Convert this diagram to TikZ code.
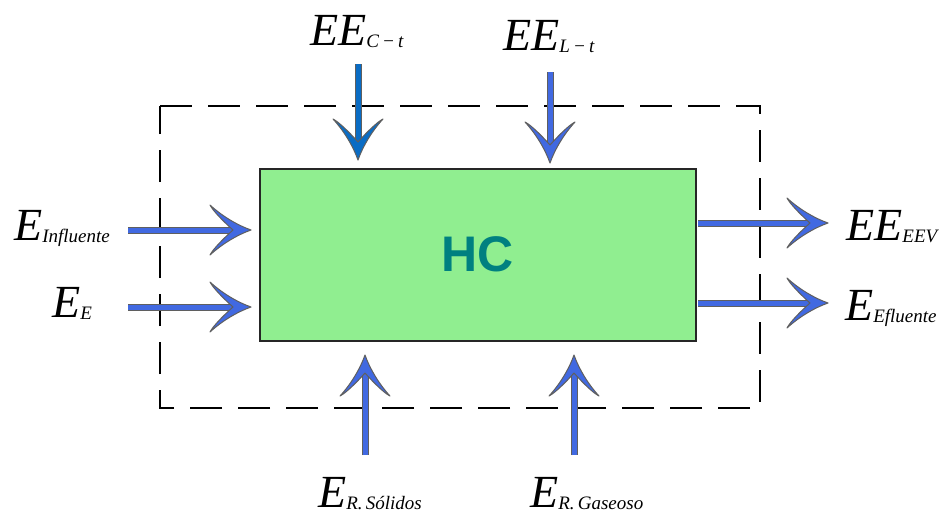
\documentclass[tikz,border=0pt]{standalone}
\usepackage{fontspec}
\setmainfont{Liberation Serif}
\newfontfamily\hcfont{Liberation Sans}
\usetikzlibrary{arrows.meta}
\definecolor{boxgreen}{RGB}{144,238,144}
\definecolor{hcteal}{RGB}{0,128,128}
\definecolor{arrowblue}{RGB}{65,105,225}
\definecolor{arrowdark}{RGB}{10,108,196}
\definecolor{arrowedge}{RGB}{95,95,95}
\pgfdeclarearrow{
  name = Chev,
  setup code = {
    \pgfarrowssettipend{0pt}
    \pgfarrowssetlineend{-19pt}
    \pgfarrowssetbackend{-41pt}
    \pgfarrowssetvisualbackend{-19pt}
    \pgfarrowshullpoint{0pt}{0pt}
    \pgfarrowshullpoint{-41pt}{25pt}
    \pgfarrowshullpoint{-41pt}{-25pt}
  },
  drawing code = {
    \pgfsetdash{}{+0pt}
    \pgfsetlinewidth{1pt}
    \pgfsetroundjoin
    \pgfpathmoveto{\pgfqpoint{0pt}{0pt}}
    \pgfpathcurveto{\pgfqpoint{-14pt}{5pt}}{\pgfqpoint{-29pt}{14pt}}{\pgfqpoint{-41pt}{25pt}}
    \pgfpathcurveto{\pgfqpoint{-38pt}{19pt}}{\pgfqpoint{-27pt}{8pt}}{\pgfqpoint{-18pt}{0pt}}
    \pgfpathcurveto{\pgfqpoint{-27pt}{-8pt}}{\pgfqpoint{-38pt}{-19pt}}{\pgfqpoint{-41pt}{-25pt}}
    \pgfpathcurveto{\pgfqpoint{-29pt}{-14pt}}{\pgfqpoint{-14pt}{-5pt}}{\pgfqpoint{0pt}{0pt}}
    \pgfpathclose
    \pgfusepathqfillstroke
  }
}
\newcommand\biglab[2]{{\fontsize{46}{46}\selectfont\itshape #1}{\fontsize{19}{19}\selectfont\itshape\raisebox{-2pt}{#2}}}
\tikzset{
  flow/.style={line width=5pt, draw=#1,
    preaction={draw=arrowedge, line width=7pt, shorten >=19pt, arrows=-},
    -{Chev[color=arrowedge, fill=#1]}},
  flow/.default=arrowblue,
  lab/.style={inner sep=0pt, anchor=base west},
  sysline/.style={line width=2.5pt, dash pattern=on 32pt off 16pt}
}
\begin{document}
\begin{tikzpicture}[x=1pt,y=-1pt]
\useasboundingbox (0,0) rectangle (949,517);
% system boundary
\draw[sysline] (160,106) -- (760,106) -- (760,408) -- (160,408) -- cycle;
% main box
\node[draw=black!85, line width=1.5pt, fill=boxgreen, anchor=north west,
      minimum width=436pt, minimum height=172pt, inner sep=0pt,
      font=\hcfont\bfseries\fontsize{50}{50}\selectfont, text=hcteal] (hc) at (259,168) {HC};
% labels
\node[lab] (ct) at (310,45) {\biglab{EE}{C\,\textminus\,t}};
\node[lab] (lt) at (503,50) {\biglab{EE}{L\,\textminus\,t}};
\node[lab] (in) at (14,240) {\biglab{E}{Influente}};
\node[lab] (ee) at (52,317) {\biglab{E}{E}};
\node[lab] (eev) at (846,240) {\biglab{EE}{EEV}};
\node[lab] (ef) at (845,320) {\biglab{E}{Efluente}};
\node[lab] (rs) at (318,507) {\biglab{E}{R.\,Sólidos}};
\node[lab] (rg) at (530,507) {\biglab{E}{R.\,Gaseoso}};
% arrow ends
\coordinate (t1s) at (358,64);  \coordinate (t1e) at (358,160);
\coordinate (t2s) at (550,72);  \coordinate (t2e) at (550,163);
\coordinate (l1s) at (128,230); \coordinate (l1e) at (251,230);
\coordinate (l2s) at (128,307); \coordinate (l2e) at (251,307);
\coordinate (r1s) at (698,223); \coordinate (r1e) at (828,223);
\coordinate (r2s) at (698,303); \coordinate (r2e) at (828,303);
\coordinate (b1s) at (365,455); \coordinate (b1e) at (365,355);
\coordinate (b2s) at (574,455); \coordinate (b2e) at (574,355);
% arrows
\draw[flow=arrowdark] (t1s) -- (t1e);
\draw[flow] (t2s) -- (t2e);
\draw[flow] (l1s) -- (l1e);
\draw[flow] (l2s) -- (l2e);
\draw[flow] (r1s) -- (r1e);
\draw[flow] (r2s) -- (r2e);
\draw[flow] (b1s) -- (b1e);
\draw[flow] (b2s) -- (b2e);
\end{tikzpicture}
\end{document}
